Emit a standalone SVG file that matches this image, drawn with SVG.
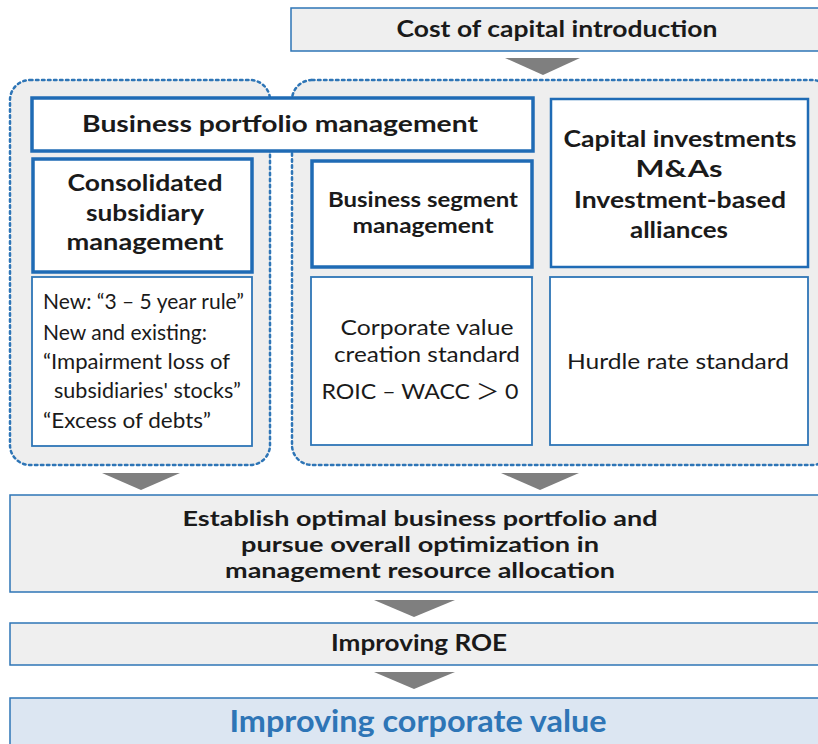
<svg xmlns="http://www.w3.org/2000/svg" width="818" height="744" viewBox="0 0 818 744">
<style>
.bar{fill:#efefef;stroke:#2e75b6;stroke-width:1.5}
.grp{fill:#eeeeee;stroke:#2e75b6;stroke-width:2.5;stroke-dasharray:2.5 3.5;stroke-linecap:round}
.hd{fill:#ffffff;stroke:#1f6bb5;stroke-width:3.5}
.bd{fill:#ffffff;stroke:#2e75b6;stroke-width:1.8}
.arr{fill:#7f7f7f}
text{font-family:Lato,"Open Sans","Liberation Sans","Noto Sans CJK JP",sans-serif;fill:#1a1a1a;text-anchor:middle}
.b{font-weight:bold;font-size:23px}
.bt{font-weight:bold;font-size:21.5px}
.r{font-size:21.5px}
.l{text-anchor:start}
</style>
<rect width="818" height="744" fill="#ffffff"/>
<g id="cost">
<rect class="bar" x="291" y="8" width="540" height="43"/>
<text class="b" x="557" y="37" textLength="321" lengthAdjust="spacingAndGlyphs">Cost of capital introduction</text>
</g>
<g id="containers">
<rect class="grp" x="10" y="80" width="260" height="385" rx="20"/>
<rect class="grp" x="292" y="80" width="540" height="385" rx="20"/>
</g>
<g id="portfolio">
<rect class="hd" x="32" y="98" width="501" height="53"/>
<text class="b" x="280" y="132" textLength="396" lengthAdjust="spacingAndGlyphs">Business portfolio management</text>
</g>
<g id="consolidated">
<rect class="hd" x="33" y="159" width="219" height="113"/>
<text class="b" x="145" y="191" textLength="155" lengthAdjust="spacingAndGlyphs">Consolidated</text>
<text class="b" x="145" y="221" textLength="118" lengthAdjust="spacingAndGlyphs">subsidiary</text>
<text class="b" x="145" y="250" textLength="157" lengthAdjust="spacingAndGlyphs">management</text>
</g>
<g id="rules">
<rect class="bd" x="32" y="277" width="220" height="169"/>
<text class="r l" x="43" y="309" textLength="201" lengthAdjust="spacingAndGlyphs">New: “3 – 5 year rule”</text>
<text class="r l" x="43" y="340" textLength="164" lengthAdjust="spacingAndGlyphs">New and existing:</text>
<text class="r l" x="43" y="369" textLength="187" lengthAdjust="spacingAndGlyphs">“Impairment loss of</text>
<text class="r l" x="54" y="398" textLength="187" lengthAdjust="spacingAndGlyphs">subsidiaries' stocks”</text>
<text class="r l" x="43" y="428" textLength="168" lengthAdjust="spacingAndGlyphs">“Excess of debts”</text>
</g>
<g id="segment">
<rect class="hd" x="312" y="161" width="220" height="106"/>
<text class="bt" x="423" y="207" textLength="190" lengthAdjust="spacingAndGlyphs">Business segment</text>
<text class="bt" x="423" y="233" textLength="141" lengthAdjust="spacingAndGlyphs">management</text>
</g>
<g id="value-standard">
<rect class="bd" x="311" y="277" width="221" height="168"/>
<text class="r" x="427" y="335" textLength="173" lengthAdjust="spacingAndGlyphs">Corporate value</text>
<text class="r" x="427" y="362" textLength="186" lengthAdjust="spacingAndGlyphs">creation standard</text>
<text class="r" x="420" y="399" textLength="197" lengthAdjust="spacingAndGlyphs">ROIC – WACC ＞ 0</text>
</g>
<g id="capital">
<rect class="hd" x="551" y="99" width="257" height="168" style="stroke-width:2.5"/>
<text class="b" x="680" y="147" textLength="233" lengthAdjust="spacingAndGlyphs">Capital investments</text>
<text class="b" x="679" y="177" textLength="87" lengthAdjust="spacingAndGlyphs">M&amp;As</text>
<text class="b" x="680" y="208" textLength="212" lengthAdjust="spacingAndGlyphs">Investment-based</text>
<text class="b" x="679" y="238" textLength="98" lengthAdjust="spacingAndGlyphs">alliances</text>
</g>
<g id="hurdle">
<rect class="bd" x="550" y="277" width="258" height="168"/>
<text class="r" x="678" y="369" textLength="222" lengthAdjust="spacingAndGlyphs">Hurdle rate standard</text>
</g>
<g id="optimal">
<rect class="bar" x="10" y="495" width="830" height="97"/>
<text class="bt" x="420" y="526" textLength="475" lengthAdjust="spacingAndGlyphs">Establish optimal business portfolio and</text>
<text class="bt" x="420" y="552" textLength="358" lengthAdjust="spacingAndGlyphs">pursue overall optimization in</text>
<text class="bt" x="420" y="578" textLength="390" lengthAdjust="spacingAndGlyphs">management resource allocation</text>
</g>
<g id="roe">
<rect class="bar" x="10" y="623" width="830" height="42"/>
<text class="b" x="419" y="651" textLength="176" lengthAdjust="spacingAndGlyphs">Improving ROE</text>
</g>
<g id="corporate-value">
<rect x="10" y="698" width="830" height="60" fill="#dce6f2" stroke="#2e75b6" stroke-width="1.5"/>
<text x="418" y="732" font-weight="bold" font-size="30" style="fill:#2e75b6" textLength="377" lengthAdjust="spacingAndGlyphs">Improving corporate value</text>
</g>
<g id="connectors">
<polygon class="arr" points="505,58 580,58 543,75"/>
<polygon class="arr" points="102,473 180,473 141,490"/>
<polygon class="arr" points="501,473 579,473 540,490"/>
<polygon class="arr" points="374,600 455,600 414,617"/>
<polygon class="arr" points="374,672 455,672 414,689"/>
</g>
</svg>
